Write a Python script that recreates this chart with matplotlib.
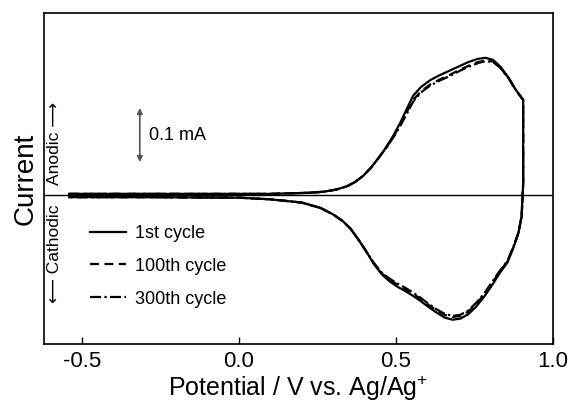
import numpy as np
import matplotlib
matplotlib.use("Agg")
import matplotlib.pyplot as plt

plt.rcParams['font.family'] = ['Liberation Sans', 'DejaVu Sans']
plt.rcParams['mathtext.fontset'] = 'custom'
plt.rcParams['mathtext.rm'] = 'Liberation Sans'
plt.rcParams['mathtext.it'] = 'Liberation Sans'

# forward (anodic) sweep, V
v_fwd = [-0.54, -0.3, 0.0, 0.1, 0.16, 0.22, 0.27, 0.31, 0.344, 0.37, 0.395, 0.42, 0.44,
         0.465, 0.49, 0.515, 0.535, 0.555, 0.58, 0.61, 0.64, 0.67, 0.70, 0.73, 0.76,
         0.785, 0.81, 0.835, 0.86, 0.88, 0.905]
# reverse (cathodic) sweep, V
v_rev = [0.905, 0.905, 0.90, 0.89, 0.875, 0.855, 0.83, 0.805, 0.78, 0.755, 0.73, 0.705,
         0.68, 0.655, 0.63, 0.605, 0.58, 0.555, 0.53, 0.505, 0.48, 0.455, 0.43, 0.405,
         0.38, 0.355, 0.33, 0.30, 0.26, 0.20, 0.10, 0.0, -0.3, -0.54]

# current / mA
i1_fwd = [0.002, 0.002, 0.002, 0.002, 0.003, 0.004, 0.006, 0.010, 0.016, 0.024, 0.035,
          0.050, 0.065, 0.085, 0.108, 0.135, 0.160, 0.184, 0.200, 0.213, 0.222, 0.230,
          0.238, 0.246, 0.252, 0.254, 0.250, 0.236, 0.216, 0.196, 0.176]
i1_rev = [0.12, 0.02, -0.04, -0.07, -0.096, -0.125, -0.145, -0.168, -0.189, -0.207,
          -0.221, -0.229, -0.231, -0.227, -0.218, -0.208, -0.197, -0.187, -0.178, -0.170,
          -0.160, -0.147, -0.128, -0.104, -0.082, -0.062, -0.048, -0.036, -0.024, -0.014,
          -0.008, -0.005, -0.004, -0.004]

i100_fwd = [0.002, 0.002, 0.002, 0.002, 0.003, 0.004, 0.006, 0.010, 0.016, 0.024, 0.035,
            0.050, 0.065, 0.084, 0.106, 0.131, 0.154, 0.176, 0.192, 0.205, 0.214, 0.222,
            0.231, 0.239, 0.246, 0.249, 0.247, 0.234, 0.215, 0.196, 0.176]
i100_rev = [0.12, 0.02, -0.04, -0.07, -0.095, -0.123, -0.142, -0.164, -0.185, -0.202,
            -0.216, -0.224, -0.226, -0.222, -0.214, -0.204, -0.193, -0.183, -0.174,
            -0.166, -0.157, -0.145, -0.127, -0.104, -0.082, -0.062, -0.048, -0.036,
            -0.024, -0.014, -0.008, -0.005, -0.004, -0.004]

i300_fwd = [0.002, 0.002, 0.002, 0.002, 0.003, 0.004, 0.006, 0.010, 0.016, 0.024, 0.035,
            0.050, 0.065, 0.084, 0.105, 0.129, 0.151, 0.173, 0.190, 0.203, 0.212, 0.220,
            0.229, 0.237, 0.244, 0.248, 0.246, 0.234, 0.215, 0.196, 0.176]
i300_rev = [0.12, 0.02, -0.04, -0.07, -0.094, -0.122, -0.141, -0.162, -0.183, -0.200,
            -0.214, -0.222, -0.224, -0.220, -0.212, -0.202, -0.191, -0.181, -0.172,
            -0.164, -0.155, -0.144, -0.126, -0.104, -0.082, -0.062, -0.048, -0.036,
            -0.024, -0.014, -0.008, -0.005, -0.004, -0.004]

labels = ['1st cycle', '100th cycle', '300th cycle']
xticks = [-0.5, 0.0, 0.5, 1.0]

fig = plt.figure(figsize=(5.69, 4.03), dpi=100)
ax = fig.add_axes([0.0773, 0.1464, 0.8946, 0.8213])

ax.axhline(0, color='black', lw=1.0, zorder=1)

styles = ['-', (0, (4, 2.5)), (0, (5, 1.5, 1, 1.5))]
series = [(i1_fwd, i1_rev), (i100_fwd, i100_rev), (i300_fwd, i300_rev)]
for (f, r), ls, lab in zip(series, styles, labels):
    ax.plot(v_fwd + v_rev, f + r, color='black', ls=ls, lw=1.6, label=lab)

ax.set_xlim(-0.62, 1.0)
ax.set_ylim(-0.276, 0.337)
ax.set_xticks(xticks)
ax.set_xticklabels(['-0.5', '0.0', '0.5', '1.0'])
ax.set_yticks([])
ax.tick_params(axis='x', direction='in', length=5, width=1, labelsize=16, pad=5)
for s in ax.spines.values():
    s.set_linewidth(1.2)

ax.set_xlabel('Potential / V vs. Ag/Ag$^{+}$', fontsize=18, labelpad=1)
ax.set_ylabel('Current', fontsize=20, labelpad=4)

ax.text(0.0216, 0.48, 'Anodic \u27f6', rotation=90, ha='center', va='bottom',
        transform=ax.transAxes, fontsize=12.5)
ax.text(0.0216, 0.42, '\u27f5 Cathodic', rotation=90, ha='center', va='top',
        transform=ax.transAxes, fontsize=12.5)

# 0.1 mA scale bar
ax.annotate('', xy=(-0.315, 0.161), xytext=(-0.315, 0.061),
            arrowprops=dict(arrowstyle='<|-|>', color='#555555', lw=1.2,
                            mutation_scale=8, shrinkA=0, shrinkB=0))
ax.text(-0.285, 0.111, '0.1 mA', fontsize=13, va='center', ha='left')

ax.legend(loc='upper left', bbox_to_anchor=(0.09, 0.36), frameon=False,
          fontsize=13, handlelength=2.0, handletextpad=0.5, labelspacing=0.88,
          borderpad=0, borderaxespad=0)

fig.savefig('out.png', dpi=100)
